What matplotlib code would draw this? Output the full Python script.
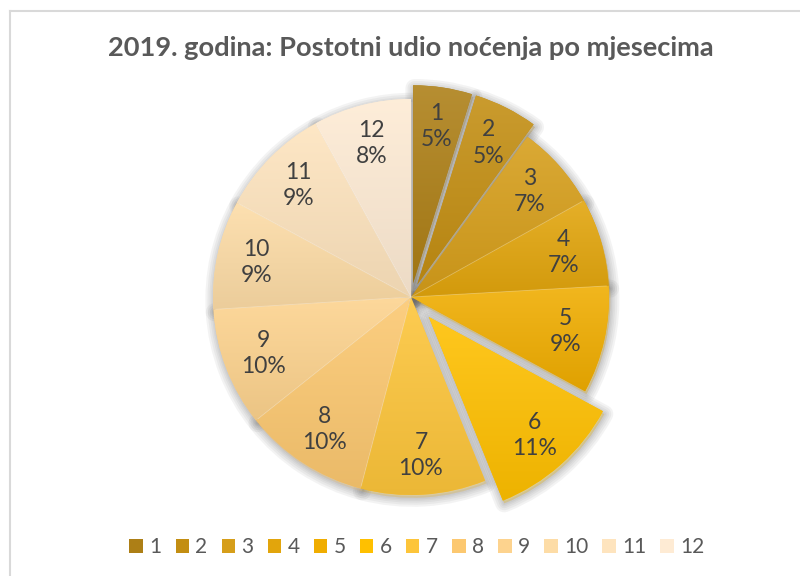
import matplotlib
matplotlib.use("Agg")
import matplotlib.pyplot as plt
import numpy as np
from matplotlib.patches import Rectangle
from matplotlib.lines import Line2D
import matplotlib.patheffects as pe
import matplotlib.colors as mcolors

months = ["1", "2", "3", "4", "5", "6", "7", "8", "9", "10", "11", "12"]
values = [4.8, 5.2, 6.9, 7.2, 8.8, 11.0, 10.2, 10.2, 9.7, 8.9, 9.1, 8.0]
pct_labels = ["5%", "5%", "7%", "7%", "9%", "11%", "10%", "10%", "10%", "9%", "9%", "8%"]
explode_frac = [0.07, 0.07, 0, 0, 0, 0.135, 0, 0, 0, 0, 0, 0]
colors = ["#AD7F16", "#C38E12", "#D69E1A", "#E2A50C", "#F0AD00", "#FFC000",
          "#FDC53A", "#FCC870", "#FDD38E", "#FDDCA6", "#FEE4BE", "#FEEBD4"]
title = "2019. godina: Postotni udio noćenja po mjesecima"

plt.rcParams['font.family'] = ['Lato', 'DejaVu Sans']

W, H = 800, 576
fig = plt.figure(figsize=(8, 5.76), dpi=100)
ax = fig.add_axes([0, 0, 1, 1])

cx, cy, R = 411, H - 297, 198
explode = [e * R for e in explode_frac]
wedges, _ = ax.pie(values, explode=explode, colors=colors, startangle=90,
                   counterclock=False, radius=R, center=(cx, cy),
                   wedgeprops=dict(edgecolor='none', linewidth=0),
                   frame=True)
ax.set_xlim(0, W)
ax.set_ylim(0, H)
ax.set_aspect('equal')
ax.axis('off')

shadow_fx = [pe.Stroke(offset=(1, -2), linewidth=lw, foreground='#6e6e6e', alpha=0.08,
                       joinstyle='round', capstyle='round')
             for lw in (13, 10, 7, 4.5, 2.5)]

for i, w in enumerate(wedges):
    w.set_path_effects(shadow_fx + [pe.Normal()])
    base = np.array(mcolors.to_rgb(colors[i]))
    top = np.clip(base + (1 - base) * 0.12, 0, 1)
    bot = base * 0.93
    n = 64
    t = np.linspace(0, 1, n)[:, None]
    grad = (top[None, :] * (1 - t) + bot[None, :] * t)[:, None, :]
    verts = w.get_path().vertices
    y0, y1 = verts[:, 1].min() - 2, verts[:, 1].max() + 2
    x0, x1 = verts[:, 0].min() - 2, verts[:, 0].max() + 2
    im = ax.imshow(grad, extent=[x0, x1, y0, y1], origin='upper', aspect='auto',
                   zorder=w.get_zorder() + 0.1, interpolation='bilinear')
    im.set_clip_path(w)

    th = np.deg2rad((w.theta1 + w.theta2) / 2)
    wc = w.center
    r = 0.8 * R
    tx = wc[0] + r * np.cos(th)
    ty = wc[1] + r * np.sin(th)
    ax.text(tx, ty, f"{months[i]}\n{pct_labels[i]}", ha='center', va='center',
            fontsize=16.5, color='#404040', linespacing=1.3, zorder=10)

# thin separators between adjoining slices
for i, w in enumerate(wedges):
    if explode_frac[i] == 0 and explode_frac[i - 1] == 0:
        th = np.deg2rad(w.theta2)
        ax.plot([cx, cx + 0.99 * R * np.cos(th)], [cy, cy + 0.99 * R * np.sin(th)],
                color=(1, 1, 1, 0.3), lw=0.6, zorder=5, solid_capstyle='butt')

ax.set_xlim(0, W)
ax.set_ylim(0, H)

fig.text(411 / W, 1 - 48 / H, title, ha='center', va='center', fontsize=19.6,
         fontweight='bold', color='#595959')

fig.add_artist(Line2D([10 / W, 1], [1 - 11 / H, 1 - 11 / H], color='#D9D9D9', lw=1.5))
fig.add_artist(Line2D([10 / W, 10 / W], [0, 1 - 11 / H], color='#D9D9D9', lw=1.5))

handles = [Rectangle((0, 0), 1, 1, facecolor=c, edgecolor='none') for c in colors]
leg = fig.legend(handles, months, loc='center', bbox_to_anchor=(417 / W, 1 - 547 / H),
                 ncol=12, frameon=False, fontsize=15, handlelength=0.65, handleheight=0.65,
                 handletextpad=0.3, columnspacing=0.68, labelcolor='#595959')

fig.savefig("out.png", dpi=100)
